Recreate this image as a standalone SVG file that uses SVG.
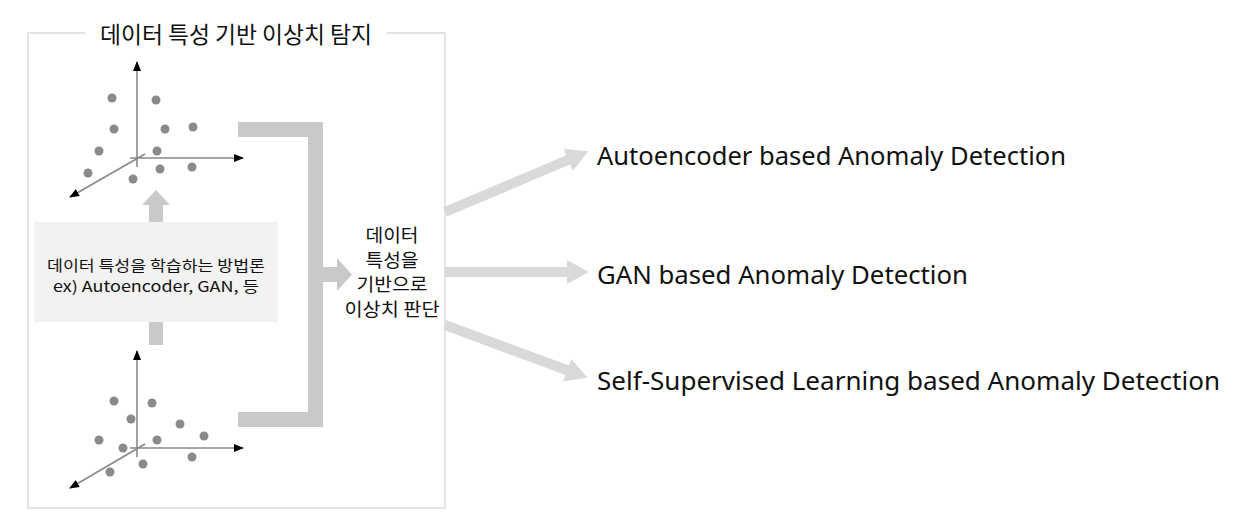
<svg xmlns="http://www.w3.org/2000/svg" width="1242" height="528" viewBox="0 0 1242 528">
<defs>
<style>
.kr{font-family:"Noto Sans CJK KR","Noto Sans",sans-serif;fill:#111}
.en{font-family:"Noto Sans","Noto Sans CJK KR",sans-serif;fill:#111;font-size:25.5px}
.frame{fill:none;stroke:#dcdcdc;stroke-width:1.5}
.axis{stroke:#888;stroke-width:1.6;fill:none}
.dot{fill:#8a8a8a}
.blk{fill:#c9c9c9}
.arr{stroke:#d9d9d9;stroke-width:10;fill:none}
</style>
<marker id="ax" viewBox="0 0 10 8" refX="9" refY="4" markerWidth="10" markerHeight="8" markerUnits="userSpaceOnUse" orient="auto">
<path d="M0,0 L10,4 L0,8 z" fill="#000"/>
</marker>
<marker id="big" viewBox="0 0 22 24" refX="1" refY="12" markerWidth="22" markerHeight="24" markerUnits="userSpaceOnUse" orient="auto">
<path d="M0,0 L22,12 L0,24 z" fill="#d9d9d9"/>
</marker>
</defs>
<rect width="1242" height="528" fill="#fff"/>

<g id="frame">
<path class="frame" d="M85,33 H28 V508 H445 V33 H387"/>
<text class="kr" x="236" y="43" font-size="22.5" text-anchor="middle" textLength="272" lengthAdjust="spacingAndGlyphs">데이터 특성 기반 이상치 탐지</text>
</g>

<g id="plot-top">
<line class="axis" x1="137" y1="167" x2="137" y2="62" marker-end="url(#ax)"/>
<line class="axis" x1="130" y1="158" x2="243" y2="158" marker-end="url(#ax)"/>
<line class="axis" x1="145" y1="154" x2="70" y2="197" marker-end="url(#ax)"/>
<circle class="dot" cx="112" cy="98" r="4.5"/>
<circle class="dot" cx="156" cy="100" r="4.5"/>
<circle class="dot" cx="114" cy="129" r="4.5"/>
<circle class="dot" cx="165" cy="129" r="4.5"/>
<circle class="dot" cx="193" cy="127" r="4.5"/>
<circle class="dot" cx="99" cy="151" r="4.5"/>
<circle class="dot" cx="157" cy="151" r="4.5"/>
<circle class="dot" cx="88" cy="173" r="4.5"/>
<circle class="dot" cx="160" cy="169" r="4.5"/>
<circle class="dot" cx="192" cy="167" r="4.5"/>
<circle class="dot" cx="133" cy="179" r="4.5"/>
</g>

<g id="plot-bottom">
<line class="axis" x1="137" y1="457" x2="137" y2="351" marker-end="url(#ax)"/>
<line class="axis" x1="130" y1="448" x2="243" y2="448" marker-end="url(#ax)"/>
<line class="axis" x1="145" y1="444" x2="70" y2="488" marker-end="url(#ax)"/>
<circle class="dot" cx="114" cy="401" r="4.5"/>
<circle class="dot" cx="152" cy="403" r="4.5"/>
<circle class="dot" cx="131" cy="419" r="4.5"/>
<circle class="dot" cx="180" cy="424" r="4.5"/>
<circle class="dot" cx="204" cy="436" r="4.5"/>
<circle class="dot" cx="99" cy="440" r="4.5"/>
<circle class="dot" cx="157" cy="440" r="4.5"/>
<circle class="dot" cx="123" cy="448" r="4.5"/>
<circle class="dot" cx="192" cy="457" r="4.5"/>
<circle class="dot" cx="143" cy="464" r="4.5"/>
<circle class="dot" cx="110" cy="472" r="4.5"/>
</g>

<g id="method-box">
<rect x="34" y="222" width="244" height="100" fill="#f2f2f2"/>
<text class="kr" x="156" y="271" font-size="15" text-anchor="middle" textLength="218" lengthAdjust="spacingAndGlyphs">데이터 특성을 학습하는 방법론</text>
<text class="kr" x="156" y="292" font-size="15" text-anchor="middle" textLength="206" lengthAdjust="spacingAndGlyphs">ex) Autoencoder, GAN, 등</text>
</g>

<g id="judge">
<text class="kr" x="392" y="242" font-size="18.5" text-anchor="middle" textLength="53" lengthAdjust="spacingAndGlyphs">데이터</text>
<text class="kr" x="392" y="266.5" font-size="18.5" text-anchor="middle" textLength="53" lengthAdjust="spacingAndGlyphs">특성을</text>
<text class="kr" x="392" y="291" font-size="18.5" text-anchor="middle" textLength="71" lengthAdjust="spacingAndGlyphs">기반으로</text>
<text class="kr" x="392" y="315.5" font-size="18.5" text-anchor="middle" textLength="95" lengthAdjust="spacingAndGlyphs">이상치 판단</text>
</g>

<g id="label-ae"><text class="en" x="597" y="165" textLength="469" lengthAdjust="spacingAndGlyphs">Autoencoder based Anomaly Detection</text></g>
<g id="label-gan"><text class="en" x="597" y="284" textLength="371" lengthAdjust="spacingAndGlyphs">GAN based Anomaly Detection</text></g>
<g id="label-ssl"><text class="en" x="597" y="390" textLength="623" lengthAdjust="spacingAndGlyphs">Self-Supervised Learning based Anomaly Detection</text></g>

<g id="connectors">
<rect class="blk" x="149" y="205" width="14" height="17"/>
<polygon class="blk" points="142,205 156,190 170,205"/>
<rect class="blk" x="149" y="322" width="14" height="23"/>
<rect class="blk" x="238" y="122" width="85" height="15"/>
<rect class="blk" x="308" y="122" width="15" height="305"/>
<rect class="blk" x="238" y="412" width="85" height="15"/>
<rect class="blk" x="323" y="267" width="15" height="15"/>
<polygon class="blk" points="337,258 352,274.5 337,291"/>
<line class="arr" x1="445" y1="212" x2="569" y2="159.5" marker-end="url(#big)"/>
<line class="arr" x1="445" y1="272" x2="568" y2="272" marker-end="url(#big)"/>
<line class="arr" x1="445" y1="325" x2="568" y2="370.5" marker-end="url(#big)"/>
</g>
</svg>
